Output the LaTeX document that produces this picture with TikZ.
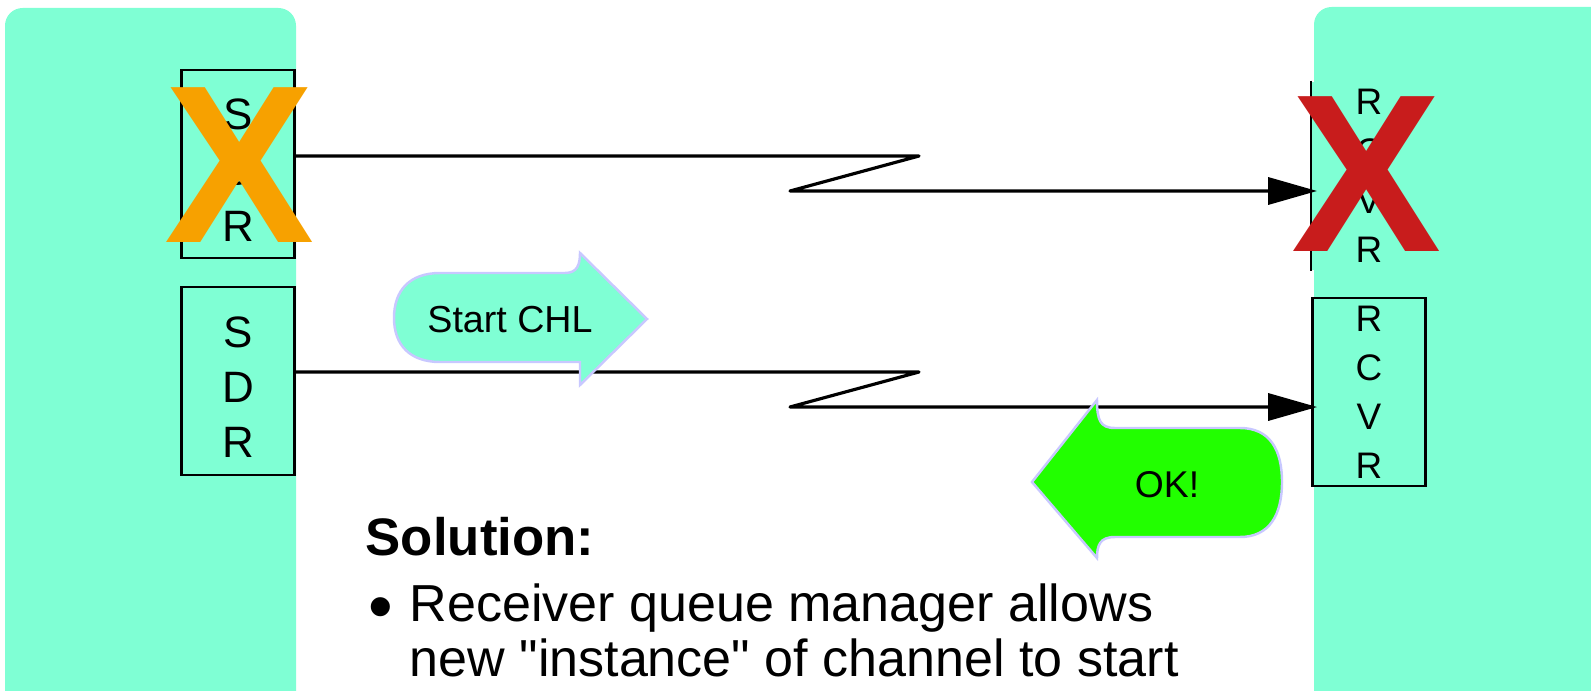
\documentclass[tikz,border=0pt]{standalone}
\usepackage{fontspec}
\setmainfont{Liberation Sans}
\newfontfamily\plainq{Liberation Sans}
\usetikzlibrary{arrows.meta,positioning}
\definecolor{aqua}{RGB}{127,255,212}
\definecolor{okgreen}{RGB}{34,255,0}
\definecolor{lav}{RGB}{200,200,255}
\definecolor{xorange}{RGB}{247,161,0}
\definecolor{xred}{RGB}{200,28,28}

\begin{document}
\begin{tikzpicture}
[x=0.01cm,y=-0.01cm,
panel/.style={fill=aqua,rounded corners=5pt},
chbox/.style={line width=0.8pt,fill=aqua,minimum width=1.13cm,minimum height=1.88cm,inner sep=0pt,align=center},
sdrtag/.style={align=center,inner sep=0pt,yshift=-1.8pt,font=\fontsize{12.5}{#1}\selectfont},
link/.style={line width=0.9pt,line join=round,shorten >=-1.7pt,-{Triangle[length=13.9pt,width=7.7pt]}},
cross/.style={text=#1,font=\fontsize{64}{64}\selectfont\bfseries,inner sep=0pt},
fat/.style={draw=lav,line width=0.7pt,fill=#1}]
\clip (0,0) rectangle (1591,691);

% queue managers
\fill[panel] (5,8) rectangle (296,740);
\fill[panel] (1314,7) rectangle (1650,740);

% channel ends
\node[chbox,draw,label={[sdrtag=16]center:{S\\D\\R}}] (sdr1) at (238,164) {};
\node[chbox,draw,label={[sdrtag=15.6]center:{S\\D\\R}}] (sdr2) at (238,381) {};
\node[chbox,font=\fontsize{10.5}{14}\selectfont] (rcv1) at (1369,176) {R\\C\\V\\R};
\node[chbox,draw,font=\fontsize{10.5}{13.9}\selectfont] (rcv2) at (1369,392) {R\\C\\V\\R};
\draw[line width=0.8pt] (rcv1.north west) -- (rcv1.south west);

% links
\coordinate (z1) at (919,156);
\coordinate (z2) at (790,191);
\coordinate (z3) at (919,372);
\coordinate (z4) at (790,407);
\draw[link] (sdr1.east |- z1) -- (z1) -- (z2) -- (rcv1.west |- z2);
\draw[link] (sdr2.east |- z3) -- (z3) -- (z4) -- (rcv2.west |- z4);

% failed ends
\node[cross=xorange] (x1) at (240,165) {X};
\node[cross=xred] (x2) at (1367,174) {X};

% start and reply
\draw[fat=aqua] (647,319) -- (580,385) -- (580,362) -- (440,362)
  .. controls (410,362) and (394,345) .. (394,318)
  .. controls (394,290) and (410,273) .. (440,273) -- (565,273)
  .. controls (577,273) and (580,265) .. (580,253) -- cycle;
\node[font=\fontsize{10.7}{12}\selectfont] (go) at (510,320) {Start CHL};
\draw[fat=okgreen] (1032,482) -- (1097,400)
  .. controls (1097,420) and (1100,428) .. (1115,428) -- (1240,428)
  .. controls (1270,428) and (1282,450) .. (1282,482)
  .. controls (1282,514) and (1270,537) .. (1240,537) -- (1115,537)
  .. controls (1100,537) and (1097,545) .. (1097,558) -- cycle;
\node[font=\fontsize{10.6}{12}\selectfont] (ok) at (1167,485) {OK!};

% text
\node[anchor=base west,inner sep=0pt,font=\fontsize{15}{18}\selectfont\bfseries] (sol) at (365,555) {Solution:};
\node[anchor=base west,inner sep=0pt,font=\fontsize{14.8}{18}\selectfont] (txt1) at (409,621) {Receiver queue manager allows};
\node[anchor=base west,inner sep=0pt,font=\fontsize{14.8}{18}\selectfont] (txt2) at (409,676) {new {\plainq "}instance{\plainq "} of channel to start};
\node[inner sep=0pt,font=\fontsize{20}{20}\selectfont] (dot) at (381,614) {•};
\end{tikzpicture}
\end{document}
